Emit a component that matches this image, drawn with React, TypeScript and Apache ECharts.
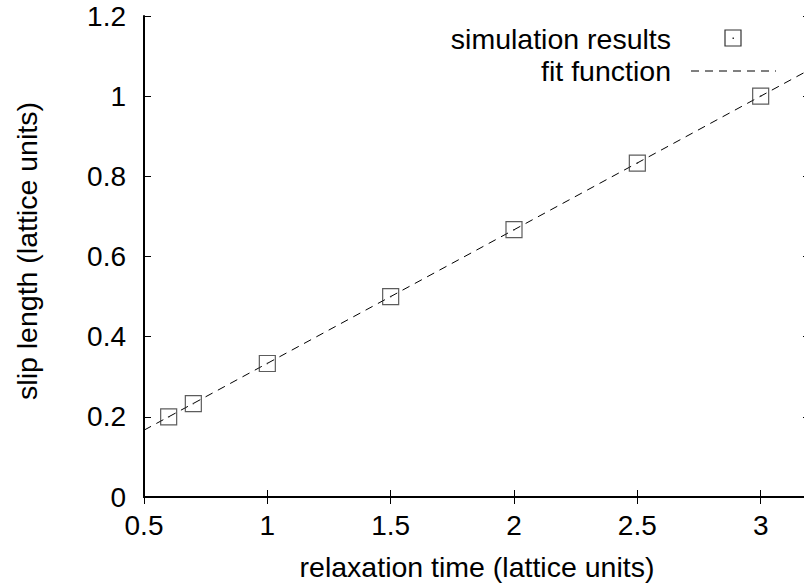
import React, { useEffect, useRef } from "react";
import * as echarts from "echarts";

const tau = [0.6, 0.7, 1.0, 1.5, 2.0, 2.5, 3.0];
const slipLength = [0.2, 0.233, 0.333, 0.5, 0.667, 0.833, 1.0];
const fitX = [0.5, 3.2];
const fitY = [0.1667, 1.0667];
const xTitle = "relaxation time (lattice units)";
const yTitle = "slip length (lattice units)";
const legendNames = ["simulation results", "fit function"];

const FONT = "'Liberation Sans', Arial, Helvetica, sans-serif";
const FS = 28;
const TFS = 28.5;

export default function App() {
  const ref = useRef<HTMLDivElement>(null);
  useEffect(() => {
    if (!ref.current) return;
    const chart = echarts.init(ref.current, null, { renderer: "svg" });
    const axisLine = { lineStyle: { color: "#000", width: 2 } };
    const axisTick = { inside: true, length: 7, lineStyle: { color: "#000", width: 1 } };
    chart.setOption({
      animation: false,
      backgroundColor: "#fff",
      grid: { left: 144, right: -6, top: 16, bottom: 89, containLabel: false, outerBoundsMode: "none" },
      xAxis: [
        {
          type: "value",
          min: 0.5,
          max: 3.2,
          interval: 0.5,
          position: "bottom",
          axisLine,
          axisTick,
          splitLine: { show: false },
          axisLabel: { color: "#000", fontSize: FS, fontFamily: FONT, margin: 14, showMaxLabel: false },
        },
        {
          type: "value",
          min: 0.5,
          max: 3.2,
          interval: 0.5,
          position: "top",
          axisLine,
          axisTick,
          splitLine: { show: false },
          axisLabel: { show: false },
        },
      ],
      yAxis: [
        {
          type: "value",
          min: 0,
          max: 1.2,
          interval: 0.2,
          position: "left",
          axisLine,
          axisTick,
          splitLine: { show: false },
          axisLabel: { color: "#000", fontSize: FS, fontFamily: FONT, margin: 18 },
        },
        {
          type: "value",
          min: 0,
          max: 1.2,
          interval: 0.2,
          position: "right",
          axisLine,
          axisTick,
          splitLine: { show: false },
          axisLabel: { show: false },
        },
      ],
      series: [
        {
          name: legendNames[1],
          type: "line",
          data: fitX.map((x, i) => [x, fitY[i]]),
          showSymbol: false,
          symbol: "none",
          lineStyle: { color: "#000", width: 1, type: [8, 6] },
          z: 2,
        },
        {
          name: legendNames[0],
          type: "scatter",
          data: tau.map((x, i) => [x, slipLength[i]]),
          symbol: "rect",
          symbolSize: 16,
          itemStyle: { color: "none", borderColor: "#333", borderWidth: 1.2 },
          z: 3,
        },
        {
          name: legendNames[0] + " center",
          type: "scatter",
          data: tau.map((x, i) => [x, slipLength[i]]),
          symbol: "rect",
          symbolSize: 1.5,
          itemStyle: { color: "#333" },
          z: 3,
        },
      ],
      graphic: [
        {
          type: "text",
          x: 477,
          y: 567,
          style: { text: xTitle, fill: "#000", font: `${TFS}px ${FONT}`, textAlign: "center", textVerticalAlign: "middle" },
        },
        {
          type: "text",
          x: 27,
          y: 251,
          rotation: Math.PI / 2,
          style: { text: yTitle, fill: "#000", font: `${TFS}px ${FONT}`, textAlign: "center", textVerticalAlign: "middle" },
        },
        {
          type: "text",
          x: 671,
          y: 39,
          style: { text: legendNames[0], fill: "#000", font: `${TFS}px ${FONT}`, textAlign: "right", textVerticalAlign: "middle" },
        },
        {
          type: "rect",
          shape: { x: 725, y: 30, width: 16, height: 16 },
          style: { fill: "none", stroke: "#333", lineWidth: 1.2 },
        },
        {
          type: "rect",
          shape: { x: 732.5, y: 37.5, width: 1.5, height: 1.5 },
          style: { fill: "#333" },
        },
        {
          type: "text",
          x: 671,
          y: 71,
          style: { text: legendNames[1], fill: "#000", font: `${TFS}px ${FONT}`, textAlign: "right", textVerticalAlign: "middle" },
        },
        {
          type: "line",
          shape: { x1: 691, y1: 71, x2: 776, y2: 71 },
          style: { stroke: "#000", lineWidth: 1, lineDash: [8, 6] },
        },
      ],
    });
    return () => chart.dispose();
  }, []);
  return <div ref={ref} style={{ width: 804, height: 586, position: "absolute", left: 0, top: 0 }} />;
}
